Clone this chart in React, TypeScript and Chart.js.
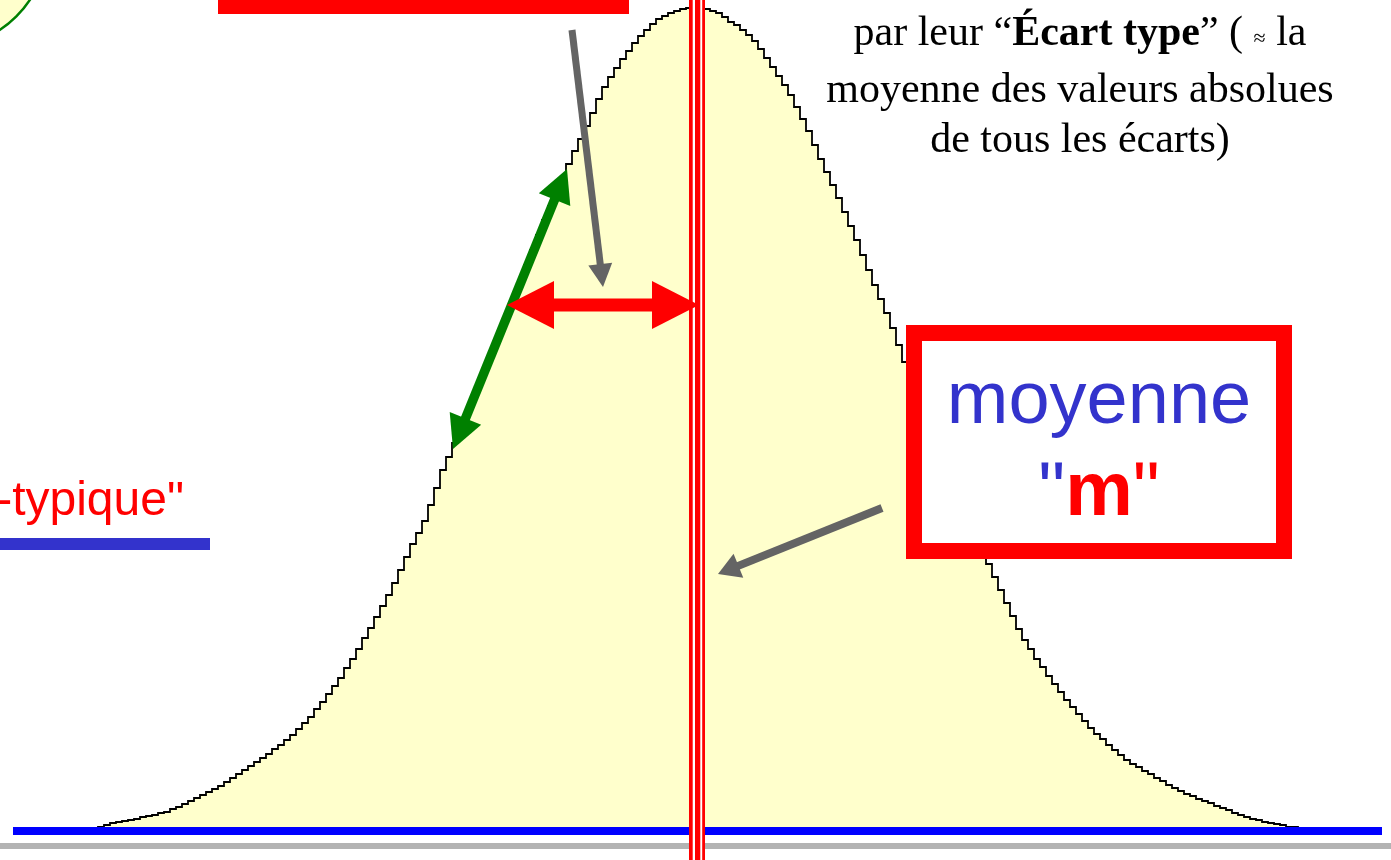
import React, { useEffect, useRef } from "react";
import { Chart, registerables } from "chart.js";

Chart.register(...registerables);

// Histogram of the measured values: effectif per class (consecutive classes of equal width)
const EFFECTIFS: number[] = [
  0, 0, 0, 1, 3, 5, 6, 7, 8, 9,
  11, 12, 13, 15, 16, 19, 21, 24, 27, 30,
  33, 36, 39, 42, 46, 50, 54, 58, 62, 66,
  70, 74, 79, 83, 88, 93, 99, 105, 111, 119,
  126, 134, 142, 150, 160, 169, 179, 190, 200, 211,
  222, 233, 245, 258, 271, 284, 295, 307, 323, 340,
  358, 371, 385, 400, 414, 428, 443, 458, 473, 488,
  503, 518, 533, 548, 563, 578, 593, 608, 622, 636,
  650, 664, 677, 689, 702, 715, 729, 741, 751, 760,
  769, 777, 785, 792, 798, 804, 809, 812, 815, 817,
  819, 820, 820, 820, 819, 817, 815, 811, 806, 803,
  798, 793, 787, 779, 770, 761, 752, 743, 733, 721,
  709, 697, 683, 669, 656, 643, 630, 616, 602, 588,
  573, 558, 543, 529, 515, 500, 483, 466, 449, 430,
  414, 400, 385, 371, 357, 342, 328, 315, 302, 290,
  277, 264, 251, 238, 225, 212, 199, 188, 179, 169,
  161, 152, 144, 136, 128, 121, 114, 107, 100, 94,
  89, 83, 78, 73, 68, 64, 61, 57, 54, 50,
  47, 43, 40, 37, 34, 32, 29, 27, 25, 22,
  20, 18, 15, 13, 11, 9, 8, 6, 5, 4,
  3, 1, 1, 0, 0, 0,
];

// statistics (in class units)
const MOYENNE = 102.833;
const ECART_TYPE = 31.667;

// axis ranges
const X_MIN = -13.333;
const X_MAX = 218.5;
const Y_MIN = -32;
const Y_MAX = 828;

const TEXTE_HAUT = ["moyenne des valeurs absolues", "de tous les écarts)"];

function drawArrow(
  ctx: CanvasRenderingContext2D,
  x1: number, y1: number, x2: number, y2: number,
  w: number, hl: number, hw: number, color: string, both: boolean
) {
  const dx = x2 - x1, dy = y2 - y1;
  const L = Math.hypot(dx, dy);
  const ux = dx / L, uy = dy / L;
  const sx = both ? x1 + ux * hl * 0.9 : x1;
  const sy = both ? y1 + uy * hl * 0.9 : y1;
  const ex = x2 - ux * hl * 0.9, ey = y2 - uy * hl * 0.9;
  ctx.save();
  ctx.strokeStyle = color;
  ctx.fillStyle = color;
  ctx.lineWidth = w;
  ctx.lineCap = "butt";
  ctx.beginPath();
  ctx.moveTo(sx, sy);
  ctx.lineTo(ex, ey);
  ctx.stroke();
  const head = (tx: number, ty: number, vx: number, vy: number) => {
    const bx = tx - vx * hl, by = ty - vy * hl;
    const qx = -vy, qy = vx;
    ctx.beginPath();
    ctx.moveTo(tx, ty);
    ctx.lineTo(bx + qx * hw, by + qy * hw);
    ctx.lineTo(bx - qx * hw, by - qy * hw);
    ctx.closePath();
    ctx.fill();
  };
  head(x2, y2, ux, uy);
  if (both) head(x1, y1, -ux, -uy);
  ctx.restore();
}

const overlayPlugin = {
  id: "overlay",
  beforeDatasetsDraw(chart: any) {
    const ctx: CanvasRenderingContext2D = chart.ctx;
    ctx.save();
    // green circle (top-left)
    ctx.beginPath();
    ctx.arc(-60, -60, 108, 0, Math.PI * 2);
    ctx.fillStyle = "#FFFFCC";
    ctx.fill();
    ctx.strokeStyle = "#008000";
    ctx.lineWidth = 2.5;
    ctx.stroke();
    ctx.restore();
  },
  afterDatasetsDraw(chart: any) {
    const ctx: CanvasRenderingContext2D = chart.ctx;
    const xs = chart.scales.x;
    const ys = chart.scales.y;
    const base = ys.getPixelForValue(0);
    const mx = xs.getPixelForValue(MOYENNE);
    const sx = xs.getPixelForValue(MOYENNE - ECART_TYPE);
    const H = chart.height;
    const W = chart.width;
    ctx.save();

    // top red box (bottom border visible)
    ctx.fillStyle = "#FF0000";
    ctx.fillRect(218, 0, 411, 14);

    // baseline (blue) and grey rule
    ctx.fillStyle = "#0000FF";
    ctx.fillRect(13, base - 1, 1369, 8);
    ctx.fillStyle = "#B3B3B3";
    ctx.fillRect(0, base + 15, W, 6);

    // mean triple line
    ctx.fillStyle = "#FF0000";
    ctx.fillRect(mx - 8, 0, 16, H);
    ctx.fillStyle = "#FFFFFF";
    ctx.fillRect(mx - 4.3, 0, 2.3, H);
    ctx.fillRect(mx + 3.3, 0, 1.9, H);

    // blue underline of label
    ctx.fillStyle = "#3333CC";
    ctx.fillRect(0, 538, 210, 12);

    // green double arrow along the flank
    drawArrow(ctx, 453, 449, 567, 169, 9.5, 33, 17, "#008000", true);
    // red double arrow = écart type
    drawArrow(ctx, sx, 305, mx + 2, 305, 13, 47, 24, "#FF0000", true);
    // grey arrow
    drawArrow(ctx, 572, 30, 603, 287, 7, 23, 12, "#646464", false);

    // box "moyenne"
    ctx.fillStyle = "#FFFFFF";
    ctx.fillRect(914, 333, 370, 218);
    ctx.strokeStyle = "#FF0000";
    ctx.lineWidth = 16;
    ctx.strokeRect(914, 333, 370, 218);

    drawArrow(ctx, 882, 508, 718, 574, 8, 22, 13, "#646464", false);

    ctx.restore();
  },
};

export default function App() {
  const ref = useRef<HTMLCanvasElement | null>(null);

  useEffect(() => {
    const prevMargin = document.body.style.margin;
    document.body.style.margin = "0";
    const canvas = ref.current;
    if (!canvas) return;
    const points = EFFECTIFS.map((v, i) => ({ x: i, y: v }));
    points.push({ x: EFFECTIFS.length, y: 0 });
    const chart = new Chart(canvas, {
      type: "line",
      data: {
        datasets: [
          {
            data: points,
            stepped: "before",
            borderColor: "#000000",
            borderWidth: 1.8,
            backgroundColor: "#FFFFCC",
            fill: "origin",
            pointRadius: 0,
            tension: 0,
          },
        ],
      },
      options: {
        responsive: false,
        animation: false,
        devicePixelRatio: 1,
        layout: { padding: 0 },
        plugins: { legend: { display: false }, tooltip: { enabled: false } },
        scales: {
          x: { type: "linear", min: X_MIN, max: X_MAX, display: false },
          y: { type: "linear", min: Y_MIN, max: Y_MAX, display: false },
        },
      },
      plugins: [overlayPlugin],
    } as any);
    return () => {
      chart.destroy();
      document.body.style.margin = prevMargin;
    };
  }, []);

  const serif = '"Liberation Serif", "Times New Roman", serif';
  const sans = '"Liberation Sans", Arial, sans-serif';

  return (
    <div
      style={{
        position: "fixed",
        left: 0,
        top: 0,
        width: 1391,
        height: 860,
        overflow: "hidden",
        background: "#FFFFFF",
      }}
    >
      <canvas
        ref={ref}
        width={1391}
        height={860}
        style={{ position: "absolute", left: 0, top: 0, width: 1391, height: 860, display: "block" }}
      />
      <div
        style={{
          position: "absolute",
          left: 780,
          width: 600,
          top: 5.8,
          textAlign: "center",
          fontFamily: serif,
          fontSize: 42,
          lineHeight: "50px",
          color: "#000",
          whiteSpace: "nowrap",
        }}
      >
        <div>
          par leur “<b>Écart type</b>” ({" "}
          <span style={{ fontSize: 22 }}>≈</span> la
        </div>
        <div>{TEXTE_HAUT[0]}</div>
        <div>{TEXTE_HAUT[1]}</div>
      </div>
      <div
        style={{
          position: "absolute",
          right: 1391 - 184,
          top: 475.4,
          fontFamily: sans,
          fontSize: 48,
          lineHeight: "48px",
          color: "#FF0000",
          whiteSpace: "nowrap",
        }}
      >
        -typique"
      </div>
      <div
        style={{
          position: "absolute",
          left: 906,
          width: 386,
          top: 361.4,
          textAlign: "center",
          fontFamily: sans,
          fontSize: 74,
          lineHeight: "74px",
          color: "#3333CC",
          whiteSpace: "nowrap",
        }}
      >
        moyenne
      </div>
      <div
        style={{
          position: "absolute",
          left: 906,
          width: 386,
          top: 450.7,
          textAlign: "center",
          fontFamily: sans,
          fontSize: 76,
          lineHeight: "76px",
          whiteSpace: "nowrap",
        }}
      >
        <span style={{ color: "#3333CC" }}>"</span>
        <b style={{ color: "#FF0000" }}>m</b>
        <span style={{ color: "#FF0000" }}>"</span>
      </div>
    </div>
  );
}
